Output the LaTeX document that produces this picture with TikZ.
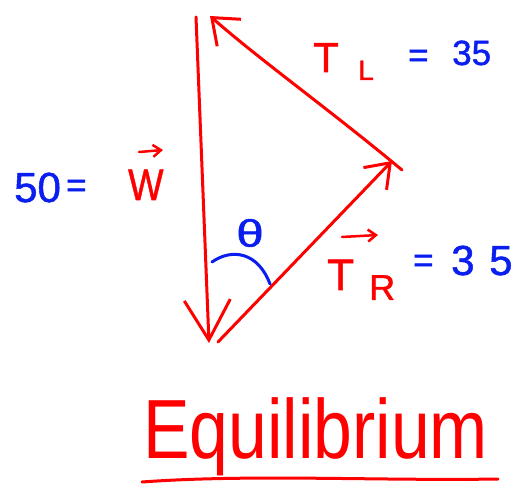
\documentclass[tikz,border=0pt]{standalone}
\usepackage{fontspec}
\setmainfont[FakeBold=1.2]{Liberation Sans}
\newfontfamily\thinhand{Liberation Sans}
\usetikzlibrary{arrows.meta}
\definecolor{pen}{RGB}{255,0,0}
\definecolor{ink}{RGB}{10,30,240}
\begin{document}
\begin{tikzpicture}[x=1pt,y=-1pt,
  vec/.style={draw=pen,line width=3pt,line cap=round,line join=round},
  redtxt/.style={text=pen,inner sep=0pt,anchor=base west},
  bluetxt/.style={text=ink,inner sep=0pt,anchor=base west}]
\useasboundingbox (0,0) rectangle (523,492);
% triangle vertices
\coordinate (wtop) at (196,17);
\coordinate (wbot) at (209,343);
\coordinate (rbot) at (218,342);
\coordinate (rtip) at (392,161);
\coordinate (lstart) at (402,170);
\coordinate (ltip) at (210,16);
% vectors
\draw[vec,-{Straight Barb[length=40pt,width=46pt]}] (wtop) -- (wbot);
\draw[vec,-{Straight Barb[length=22pt,width=32pt]}] (rbot) -- (rtip);
\draw[vec,-{Straight Barb[length=23pt,width=36pt]}] (lstart) .. controls (330,110) and (260,60) .. (ltip);
% T_L label
\node[redtxt,font=\fontsize{42}{42}\selectfont] (tl) at (313,72) {T};
\node[redtxt,font=\fontsize{28}{28}\selectfont] (tlsub) at (358,80) {L};
\node[bluetxt,font=\fontsize{35}{35}\selectfont] (tleq) at (408,67) {=};
\node[bluetxt,font=\fontsize{35}{35}\selectfont] (tlval) at (452,65) {35};
% W label
\node[bluetxt,font=\fontsize{42}{42}\selectfont] (wval) at (14,202) {50};
\node[bluetxt,font=\fontsize{35}{35}\selectfont] (weq) at (66,197) {=};
\node[redtxt,font=\fontsize{44}{44}\selectfont] (w) at (128,200) {\scalebox{0.85}[1]{W}};
\draw[vec,line width=2.5pt,-{Straight Barb[length=8pt,width=12pt]}] (139,152) -- (163,150);
% theta
\node[text=ink,inner sep=0pt,font=\fontsize{38}{38}\selectfont] (theta) at (250,233) {\scalebox{1.3}[1]{θ}};
\draw[draw=ink,line width=3pt,line cap=round] (212,262) .. controls (232,248) and (258,252) .. (270,284);
% T_R label
\node[redtxt,font=\fontsize{44}{44}\selectfont] (tr) at (327,290) {T};
\node[redtxt,font=\fontsize{36}{36}\selectfont] (trsub) at (369,300) {R};
\draw[vec,line width=2.5pt,-{Straight Barb[length=8pt,width=12pt]}] (342,237) -- (378,235);
\node[bluetxt,font=\fontsize{35}{35}\selectfont] (treq) at (413,272) {=};
\node[bluetxt,font=\fontsize{42}{42}\selectfont] (tr3) at (451,275) {3};
\node[bluetxt,font=\fontsize{42}{42}\selectfont] (tr5) at (489,275) {5};
% Equilibrium
\node[redtxt,font=\thinhand\fontsize{84}{84}\selectfont] (eq) at (143,458) {\scalebox{0.83}[1]{Equilibrium}};
\draw[vec] (142,482) .. controls (250,474) and (380,481) .. (498,479);
\end{tikzpicture}
\end{document}
